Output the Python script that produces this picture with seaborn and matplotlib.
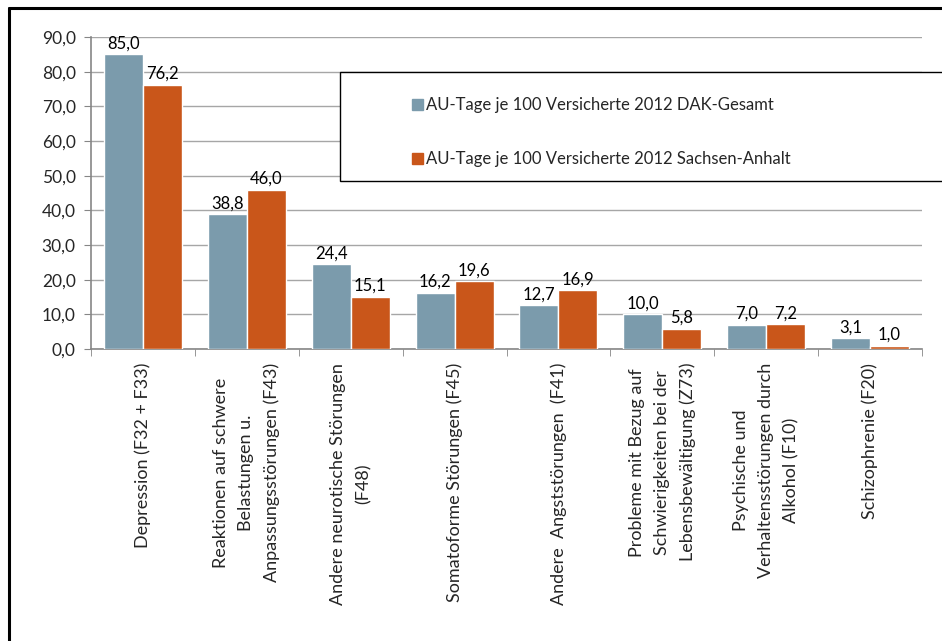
import pandas as pd
import matplotlib.pyplot as plt
import seaborn as sns
from matplotlib.patches import Rectangle
from matplotlib.lines import Line2D
from matplotlib.ticker import FuncFormatter, FixedLocator

# Daten
kategorien = [
    "Depression (F32 + F33)",
    "Reaktionen auf schwere\nBelastungen u.\nAnpassungsstörungen (F43)",
    "Andere neurotische Störungen\n(F48)",
    "Somatoforme Störungen (F45)",
    "Andere  Angststörungen  (F41)",
    "Probleme mit Bezug auf\nSchwierigkeiten bei der\nLebensbewältigung (Z73)",
    "Psychische und\nVerhaltensstörungen durch\nAlkohol (F10)",
    "Schizophrenie (F20)",
]
serie_dak = "AU-Tage je 100 Versicherte 2012 DAK-Gesamt"
serie_sa = "AU-Tage je 100 Versicherte 2012 Sachsen-Anhalt"
werte_dak = [85.0, 38.8, 24.4, 16.2, 12.7, 10.0, 7.0, 3.1]
werte_sa = [76.2, 46.0, 15.1, 19.6, 16.9, 5.8, 7.2, 1.0]
farben = ["#7B9BAC", "#C9561A"]

df = pd.DataFrame({
    "Kategorie": kategorien * 2,
    "Serie": [serie_dak] * len(kategorien) + [serie_sa] * len(kategorien),
    "Wert": werte_dak + werte_sa,
})

sns.set_style("white")
plt.rcParams["font.family"] = ["Lato", "DejaVu Sans"]
plt.rcParams["font.size"] = 11

fig = plt.figure(figsize=(9.42, 6.41), dpi=100)
ax = fig.add_axes([91 / 942, 1 - 349 / 641, (922 - 91) / 942, (349 - 37) / 641])

sns.barplot(data=df, x="Kategorie", y="Wert", hue="Serie", palette=farben,
            width=0.75, saturation=1, ax=ax, legend=False, zorder=3)

# Werte über den Balken
for cont, werte in zip(ax.containers, [werte_dak, werte_sa]):
    ax.bar_label(cont, labels=[f"{v:.1f}".replace(".", ",") for v in werte],
                 padding=2, fontsize=12, color="black")

ax.set_ylim(0, 90)
ax.set_xlim(-0.5, len(kategorien) - 0.5)
ax.set_yticks(range(0, 91, 10))
ax.yaxis.set_major_formatter(FuncFormatter(lambda v, p: f"{v:.1f}".replace(".", ",")))
ax.set_xlabel("")
ax.set_ylabel("")

ax.grid(axis="y", color="#A6A6A6", linewidth=1, zorder=0)
ax.set_axisbelow(True)
for s in ["top", "right"]:
    ax.spines[s].set_visible(False)
for s in ["left", "bottom"]:
    ax.spines[s].set_color("#868686")
    ax.spines[s].set_linewidth(1.2)

ax.tick_params(axis="y", left=True, length=5, color="#868686", labelsize=12.5, pad=6)
ax.tick_params(axis="x", which="major", length=0, pad=10)
ax.xaxis.set_minor_locator(FixedLocator([i - 0.5 for i in range(len(kategorien) + 1)]))
ax.tick_params(axis="x", which="minor", bottom=True, length=5, color="#868686")
plt.setp(ax.get_xticklabels(), rotation=90, ha="center", va="top",
         multialignment="center", fontsize=13, linespacing=1.7)

# Legende mit Kasten, der über den Rand hinausläuft
fig.patches.append(Rectangle((340 / 942, 1 - 181 / 641), 0.7, (181 - 72) / 641,
                             transform=fig.transFigure, facecolor="white",
                             edgecolor="black", linewidth=1, zorder=3))
handles = [Rectangle((0, 0), 1, 1, color=c) for c in farben]
fig.legend(handles, [serie_dak, serie_sa], loc="upper left",
           bbox_to_anchor=(397 / 942, 1 - 82 / 641), frameon=False,
           handlelength=0.65, handleheight=0.65, handletextpad=0.2,
           labelspacing=2.3, fontsize=12).set_zorder(5)

# äußerer Rahmen
fig.lines.append(Line2D([9 / 942, 9 / 942], [0, 1 - 8 / 641], transform=fig.transFigure,
                        color="black", linewidth=2.2))
fig.lines.append(Line2D([9 / 942, 1], [1 - 8 / 641, 1 - 8 / 641], transform=fig.transFigure,
                        color="black", linewidth=2.2))

plt.savefig("out.png", dpi=100)
